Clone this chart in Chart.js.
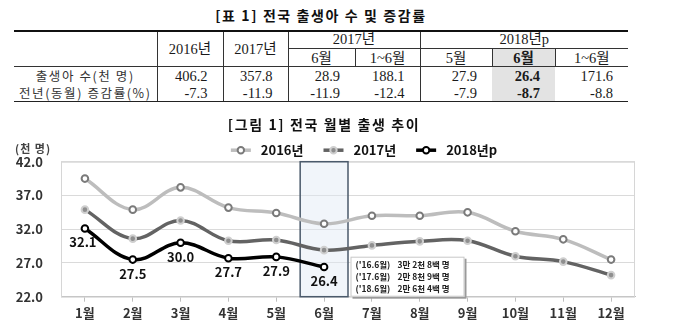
<!DOCTYPE html>
<html><head><meta charset="utf-8">
<script src="https://cdn.jsdelivr.net/npm/chart.js@4"></script>
<style>
html,body{margin:0;padding:0;background:#fff;width:680px;height:334px;overflow:hidden;}
#ttl{position:absolute;left:14px;width:614px;top:6px;text-align:center;font:bold 14px "Noto Sans CJK KR";letter-spacing:1.6px;color:#111;line-height:18px;}
#tbl{position:absolute;left:14px;top:30px;width:614px;border-collapse:collapse;table-layout:fixed;font-family:"Liberation Serif","Noto Sans CJK KR",serif;font-size:14.5px;color:#1a1a1a;}
#tbl td{padding:0;height:17px;line-height:16px;text-align:center;white-space:nowrap;overflow:hidden;}
#tbl tr.h1 td{border-top:2.5px solid #111;height:16px;}
#tbl tr.h1 td.ul{line-height:14px;vertical-align:top;}
#tbl tr.h2 td{border-bottom:1px solid #333;}
#tbl tr.last td{border-bottom:1.5px solid #222;}
#tbl td.num{text-align:right;padding-right:15px;}
#tbl td.lab{font-family:"Noto Sans CJK KR",sans-serif;font-size:12.5px;letter-spacing:1.6px;color:#333;}
#tbl td.vl{border-left:1px solid #333;}
#tbl td.ul{border-bottom:1px solid #333;}
#tbl td.hl{background:#e3e3e3;font-weight:bold;}
#wrap{position:absolute;left:0;top:110px;width:680px;height:224px;}
</style></head>
<body>
<div id="ttl"></div>
<table id="tbl"></table>
<div id="wrap"><canvas id="c" width="680" height="224"></canvas></div>
<script>
// ---- table data ----
const tableTitle = '[표 1] 전국 출생아 수 및 증감률';
const yearHeaders = ['2016년', '2017년'];
const groupHeaders = ['2017년', '2018년p'];
const subHeaders = ['6월', '1~6월', '5월', '6월', '1~6월'];
const rowLabels = ['출생아 수(천 명)', '전년(동월) 증감률(%)'];
const birthsRow = ['406.2', '357.8', '28.9', '188.1', '27.9', '26.4', '171.6'];
const changeRow = ['-7.3', '-11.9', '-11.9', '-12.4', '-7.9', '-8.7', '-8.8'];
const highlightCol = 5;

// ---- chart data ----
const chartTitle = '[그림 1] 전국 월별 출생 추이';
const unitLabel = '(천 명)';
const months = ['1월','2월','3월','4월','5월','6월','7월','8월','9월','10월','11월','12월'];
const seriesNames = ['2016년', '2017년', '2018년p'];
const births2016 = [39.5, 34.9, 38.2, 35.2, 34.4, 32.8, 34.0, 34.0, 34.5, 31.7, 30.5, 27.5];
const births2017 = [34.9, 30.6, 33.3, 30.3, 30.4, 28.9, 29.6, 30.2, 30.3, 28.0, 27.2, 25.2];
const births2018 = [32.1, 27.5, 30.0, 27.7, 27.9, 26.4, null, null, null, null, null, null];
const yMin = 22, yMax = 42, yStep = 5;
const highlightMonth = 5;
const noteLabels = ["('16.6월)", "('17.6월)", "('18.6월)"];
const noteTexts = ['3만 2천 8백 명', '2만 8천 9백 명', '2만 6천 4백 명'];

// ---- build table ----
document.getElementById('ttl').textContent = tableTitle;
const colW = [143, 66, 65, 67, 65, 72, 63, 73];
let html = '<colgroup>' + colW.map(w => '<col style="width:' + w + 'px">').join('') + '</colgroup>';
html += '<tr class="h1"><td rowspan="2" style="border-top:2.5px solid #111;border-bottom:1px solid #333"></td>' +
  '<td rowspan="2" class="vl" style="border-top:2.5px solid #111;border-bottom:1px solid #333">' + yearHeaders[0] + '</td>' +
  '<td rowspan="2" class="vl" style="border-top:2.5px solid #111;border-bottom:1px solid #333">' + yearHeaders[1] + '</td>' +
  '<td colspan="2" class="vl ul">' + groupHeaders[0] + '</td>' +
  '<td colspan="3" class="vl ul">' + groupHeaders[1] + '</td></tr>';
html += '<tr class="h2">' + subHeaders.map((s, i) => {
  const cls = ['vl'];
  if (i + 2 === highlightCol) cls.push('hl');
  return '<td class="' + cls.join(' ') + '">' + s + '</td>';
}).join('') + '</tr>';
[birthsRow, changeRow].forEach((row, r) => {
  html += '<tr' + (r === 1 ? ' class="last"' : '') + '><td class="lab">' + rowLabels[r] + '</td>';
  row.forEach((v, i) => {
    const cls = ['num'];
    if (i === 0 || i === 1 || i === 2 || i === 4) cls.push('vl');
    if (i === highlightCol) cls.push('hl');
    html += '<td class="' + cls.join(' ') + '">' + v + '</td>';
  });
  html += '</tr>';
});
document.getElementById('tbl').innerHTML = html;

// ---- chart ----
const FONT = '"Noto Sans CJK KR", "Noto Sans", sans-serif';

const highlightPlugin = {
  id: 'highlight',
  beforeDatasetsDraw(chart) {
    const {ctx, chartArea, scales: {x}} = chart;
    ctx.save();
    ctx.strokeStyle = '#d6d6d6';
    ctx.lineWidth = 1;
    ctx.strokeRect(chartArea.left + 0.5, chartArea.top + 0.5, chartArea.right - chartArea.left - 1, chartArea.bottom - chartArea.top);
    const cx = x.getPixelForValue(highlightMonth);
    const half = (x.getPixelForValue(1) - x.getPixelForValue(0)) / 2;
    ctx.fillStyle = 'rgba(225,233,244,0.45)';
    ctx.fillRect(cx - half, chartArea.top, half * 2, chartArea.bottom - chartArea.top);
    ctx.strokeStyle = '#4b5a6b';
    ctx.lineWidth = 1.5;
    ctx.strokeRect(cx - half, chartArea.top, half * 2, chartArea.bottom - chartArea.top);
    ctx.restore();
  }
};

const labelsPlugin = {
  id: 'extras',
  afterDatasetsDraw(chart) {
    const {ctx, chartArea, scales: {x}} = chart;
    ctx.save();
    const meta = chart.getDatasetMeta(2);
    ctx.font = 'bold 13px ' + FONT;
    ctx.fillStyle = '#111';
    ctx.textAlign = 'center';
    ctx.textBaseline = 'middle';
    meta.data.forEach((pt, i) => {
      const v = births2018[i];
      if (v == null) return;
      ctx.fillText(v.toFixed(1), pt.x - (i === 0 ? 2 : 0), pt.y + 14);
    });
    const cx = x.getPixelForValue(highlightMonth);
    const half = (x.getPixelForValue(1) - x.getPixelForValue(0)) / 2;
    const bx = cx + half + 2.5, bw = 114, bh = 40;
    const by = chartArea.bottom - bh;
    ctx.fillStyle = '#9a9a9a';
    ctx.fillRect(bx + 2, by + 2, bw, bh);
    ctx.fillStyle = '#fff';
    ctx.fillRect(bx, by, bw, bh);
    ctx.strokeStyle = '#c8c8c8';
    ctx.lineWidth = 1;
    ctx.strokeRect(bx + 0.5, by + 0.5, bw - 1, bh - 1);
    ctx.font = 'bold 8.5px ' + FONT;
    ctx.fillStyle = '#222';
    ctx.textAlign = 'left';
    noteLabels.forEach((l, i) => {
      const ty = by + 8 + i * 11.8;
      ctx.fillText(l, bx + 5, ty);
      ctx.fillText(noteTexts[i], bx + 47, ty);
    });
    ctx.restore();
  },
  afterDraw(chart) {
    const {ctx, chartArea, data} = chart;
    ctx.save();
    ctx.font = 'bold 14px ' + FONT;
    ctx.letterSpacing = '1.6px';
    ctx.fillStyle = '#111';
    ctx.textAlign = 'center';
    ctx.textBaseline = 'middle';
    ctx.fillText(chartTitle, 324, 15);
    ctx.letterSpacing = '1px';
    ctx.font = 'bold 11px ' + FONT;
    ctx.fillStyle = '#444';
    ctx.textAlign = 'left';
    ctx.fillText(unitLabel, 15, chartArea.top - 12.5);
    ctx.letterSpacing = '0px';
    ctx.font = 'bold 13px ' + FONT;
    const ly = chartArea.top - 11.5;
    const symW = 20, gap = 10, itemGap = 20;
    const widths = data.datasets.map(d => symW + gap + ctx.measureText(d.label).width);
    const total = widths.reduce((a, b) => a + b, 0) + itemGap * (widths.length - 1);
    let lx = 364 - total / 2;
    data.datasets.forEach((d, i) => {
      ctx.strokeStyle = d.borderColor;
      ctx.lineWidth = 3.5;
      ctx.beginPath();
      ctx.moveTo(lx, ly); ctx.lineTo(lx + symW, ly); ctx.stroke();
      ctx.beginPath();
      ctx.arc(lx + symW / 2, ly, 3.2, 0, Math.PI * 2);
      ctx.fillStyle = d.pointBackgroundColor;
      ctx.fill();
      ctx.lineWidth = 2;
      ctx.strokeStyle = d.pointBorderColor;
      ctx.stroke();
      ctx.fillStyle = '#111';
      ctx.fillText(d.label, lx + symW + gap, ly);
      lx += widths[i] + itemGap;
    });
    ctx.restore();
  }
};

new Chart(document.getElementById('c'), {
  type: 'line',
  data: {
    labels: months,
    datasets: [
      { label: seriesNames[0], data: births2016, borderColor: '#bdbdbd', borderWidth: 3.5,
        pointBackgroundColor: '#ffffff', pointBorderColor: '#7a7a7a', pointBorderWidth: 2, pointRadius: 3.3, tension: 0.38 },
      { label: seriesNames[1], data: births2017, borderColor: '#636363', borderWidth: 3.5,
        pointBackgroundColor: '#8f8f8f', pointBorderColor: '#cfcfcf', pointBorderWidth: 2, pointRadius: 3.3, tension: 0.38 },
      { label: seriesNames[2], data: births2018, borderColor: '#000000', borderWidth: 3.5,
        pointBackgroundColor: '#ffffff', pointBorderColor: '#000000', pointBorderWidth: 2, pointRadius: 3.3, tension: 0.38 }
    ]
  },
  options: {
    responsive: false,
    animation: false,
    layout: { padding: { top: 51.7, right: 45, bottom: 8.7, left: 0 } },
    plugins: { legend: { display: false }, title: { display: false }, tooltip: { enabled: false } },
    scales: {
      x: {
        offset: true,
        grid: { offset: false, drawOnChartArea: false, drawTicks: true, tickLength: 5, color: '#bfbfbf' },
        border: { color: '#bfbfbf', width: 1 },
        ticks: { padding: 4, autoSkip: false, maxRotation: 0, color: '#333', font: { family: FONT, size: 13, weight: 'bold' } }
      },
      y: {
        min: yMin, max: yMax,
        afterFit(s) { s.width = 61; },
        grid: { color: '#dadada', drawTicks: false },
        border: { display: false },
        ticks: { stepSize: yStep, padding: 18, color: '#333', font: { family: FONT, size: 13, weight: 'bold' },
          callback: v => v.toFixed(1) }
      }
    }
  },
  plugins: [highlightPlugin, labelsPlugin]
});
</script>
</body></html>
